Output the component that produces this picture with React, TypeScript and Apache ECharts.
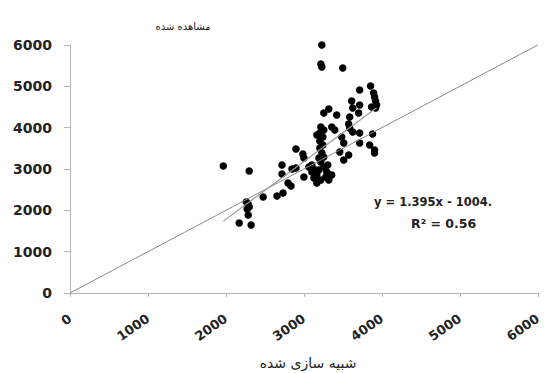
import React, { useEffect, useRef } from "react";
import * as echarts from "echarts";

// Simulated (x) vs observed (y) values
const simulated = [
  1966, 2298, 2260, 2285, 2298, 2272, 2285, 2170, 2323, 2655,
  2732, 2796, 2834, 2719, 2719, 2847, 2898, 2898, 2987, 3000,
  3102, 3153, 3166, 3128, 3166, 3217, 3281, 3332, 3192, 3255,
  3217, 3192, 3230, 3204, 3243, 3204, 3243, 3204, 3255, 3217,
  3166, 3255, 3306, 3255, 3319, 3421, 3587, 3702, 3357, 3396,
  3485, 3511, 3460, 3574, 3587, 3626, 3715, 3881, 3715, 3843,
  3906, 3906, 3511, 3574, 3357, 3613, 3626, 3715, 3715, 3855,
  3894, 3906, 3919, 3932, 3919, 3868, 3217, 3230, 3498, 3230,
  3064, 3102, 3293, 3319, 3000, 2477,
];
const observed = [
  3072, 2951, 2201, 2153, 2080, 2032, 1887, 1693, 1645, 2346,
  2419, 2661, 2588, 2879, 3096, 3000, 3024, 3483, 3362, 3266,
  3096, 2975, 2854, 2782, 2661, 2734, 2806, 2854, 2975, 3048,
  3169, 3266, 3387, 3508, 3580, 3677, 3774, 3870, 3943, 4016,
  3822, 3290, 3096, 4354, 4451, 4306, 4257, 4354, 4016, 3943,
  3774, 3629, 3411, 4088, 3991, 3895, 3870, 3846, 3629, 3580,
  3459, 3387, 3217, 3338, 2854, 4644, 4475, 4548, 4911, 5007,
  4838, 4741, 4644, 4548, 4475, 4499, 5540, 5467, 5443, 5999,
  3048, 2927, 2927, 2734, 2806, 2322,
];
const diagonalX = [0, 6000];
const diagonalY = [0, 6000];
const trendX = [1966, 3932];
const trendY = [1739, 4481];

const equationText = "y = 1.395x - 1004.";
const r2Text = "R² = 0.56";
const yTitle = "مشاهده شده";
const xTitle = "شبیه سازی شده";

export default function App() {
  const ref = useRef<HTMLDivElement>(null);
  useEffect(() => {
    if (!ref.current) return;
    const chart = echarts.init(ref.current, undefined, { renderer: "svg" });
    const labelStyle = {
      fontFamily: "DejaVu Sans",
      fontWeight: "bold" as const,
      fontSize: 13,
      color: "#222",
    };
    chart.setOption({
      animation: false,
      backgroundColor: "#fff",
      grid: { left: 70, right: 6, top: 45, bottom: 80, containLabel: false },
      title: [
        {
          text: yTitle,
          left: 178,
          top: 16,
          textAlign: "center",
          textStyle: { fontFamily: "DejaVu Sans", fontSize: 10, fontWeight: "normal", color: "#222" },
        },
        {
          text: xTitle,
          left: 303,
          top: 351,
          textAlign: "center",
          textStyle: { fontFamily: "DejaVu Sans", fontSize: 14, fontWeight: "normal", color: "#222" },
        },
        {
          text: equationText,
          left: 369,
          top: 191,
          textStyle: { ...labelStyle, fontSize: 11.5 },
        },
        {
          text: r2Text,
          left: 406,
          top: 212,
          textStyle: { ...labelStyle, fontSize: 12.5 },
        },
      ],
      xAxis: {
        type: "value",
        min: 0,
        max: 6000,
        interval: 1000,
        splitLine: { show: false },
        axisLine: { show: true, onZero: false, lineStyle: { color: "#b5b5b5" } },
        axisTick: { show: true, length: 4, lineStyle: { color: "#b5b5b5" } },
        axisLabel: { ...labelStyle, rotate: 35, margin: 24, formatter: (v: number) => String(v) },
      },
      yAxis: {
        type: "value",
        min: 0,
        max: 6000,
        interval: 1000,
        splitLine: { show: false },
        axisLine: { show: true, onZero: false, lineStyle: { color: "#b5b5b5" } },
        axisTick: { show: true, length: 6, lineStyle: { color: "#b5b5b5" } },
        axisLabel: { ...labelStyle, fontSize: 14, margin: 18, formatter: (v: number) => String(v) },
      },
      series: [
        {
          type: "line",
          data: diagonalX.map((x, i) => [x, diagonalY[i]]),
          symbol: "none",
          lineStyle: { color: "#8a8a8a", width: 1 },
          silent: true,
        },
        {
          type: "line",
          data: trendX.map((x, i) => [x, trendY[i]]),
          symbol: "none",
          lineStyle: { color: "#9a9a9a", width: 1.2 },
          silent: true,
        },
        {
          type: "scatter",
          data: simulated.map((x, i) => [x, observed[i]]),
          symbol: "circle",
          symbolSize: 7.5,
          itemStyle: { color: "#000", opacity: 1 },
        },
      ],
    });
    return () => chart.dispose();
  }, []);
  return (
    <div
      ref={ref}
      style={{ position: "fixed", left: 0, top: 0, width: 544, height: 373 }}
    />
  );
}
